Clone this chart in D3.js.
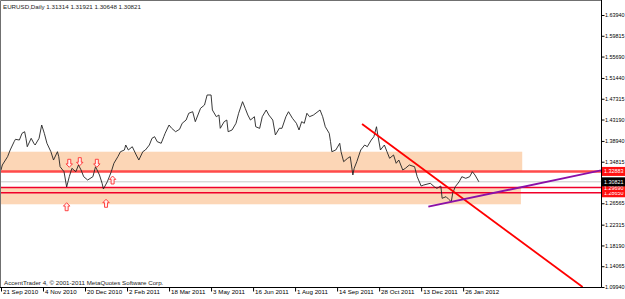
<!DOCTYPE html>
<html><head><meta charset="utf-8">
<script src="https://cdn.jsdelivr.net/npm/d3@7"></script>
<style>
html,body{margin:0;padding:0;background:#fff;}
svg{display:block;}
text{font-family:"Liberation Sans",Arial,sans-serif;font-size:6.2px;fill:#000;}
.ax text{font-size:5.4px;}
</style></head>
<body>
<svg id="c" width="625" height="299"></svg>
<script>
// ---- data (bar index from 21 Sep 2010, daily close) ----
const barIdx = [0,1,5,7,10,11,14,16,18,19,20,23,25,26,29,31,33,35,38,40,43,44,45,48,50,52,54,57,59,61,63,66,70,72,75,77,78,81,84,86,89,91,94,95,97,100,103,105,108,110,113,115,117,119,122,124,125,128,130,133,136,138,141,143,146,148,150,152,155,157,160,161,164,166,167,170,172,173,176,179,181,184,186,188,190,193,194,197,199,202,204,207,209,212,214,217,219,222,225,227,229,231,233,235,238,243,245,247,250,251,252,255,258,259,261,264,266,268,269,271,274,277,279,282,284,286,287,289,292,294,296,299,301,303,306,308,311,315,317,320,322,327,330,332,335,336,339,341,343,344,346,349,351,354,357,359,361,364];
const closes = [1.3317,1.3416,1.3581,1.3714,1.3879,1.3926,1.3912,1.4045,1.4077,1.3946,1.3779,1.3946,1.3847,1.3813,1.3946,1.4210,1.4045,1.3847,1.3680,1.3515,1.3680,1.3581,1.3382,1.3283,1.2979,1.3184,1.3350,1.3283,1.3416,1.3317,1.3184,1.3118,1.3184,1.3382,1.3218,1.3053,1.2940,1.3085,1.3283,1.3450,1.3581,1.3680,1.3714,1.3813,1.3714,1.3779,1.3615,1.3515,1.3680,1.3714,1.3813,1.3946,1.3978,1.3879,1.3847,1.3978,1.4045,1.4210,1.4145,1.4077,1.4125,1.4244,1.4309,1.4443,1.4474,1.4276,1.4409,1.4542,1.4607,1.4806,1.4806,1.4508,1.4375,1.4409,1.4145,1.4276,1.4309,1.4077,1.4111,1.4244,1.4443,1.4673,1.4542,1.4409,1.4309,1.4375,1.4176,1.4143,1.4375,1.4508,1.4409,1.4309,1.4012,1.4145,1.4145,1.4375,1.4474,1.4343,1.4244,1.4111,1.4276,1.4244,1.4443,1.4375,1.4409,1.4508,1.4375,1.4176,1.4045,1.3879,1.3680,1.3714,1.3847,1.3680,1.3482,1.3549,1.3581,1.3218,1.3350,1.3482,1.3714,1.3813,1.3779,1.3912,1.3978,1.4176,1.4012,1.3714,1.3813,1.3680,1.3549,1.3615,1.3450,1.3515,1.3317,1.3350,1.3416,1.3382,1.3184,1.2999,1.3019,1.3053,1.2985,1.2953,1.2999,1.2755,1.2787,1.2735,1.2687,1.2854,1.2985,1.3085,1.3184,1.3152,1.3184,1.3283,1.3218,1.30821];

const priceTicks = [1.63940,1.59815,1.55690,1.51440,1.47315,1.43190,1.38940,1.34815,1.30690,1.26565,1.22315,1.18190,1.14065,1.09940];
const dateTickIdx = [0,32,64,96,128,160,192,224,256,288,320,352];
const dateTickLabels = ["21 Sep 2010","4 Nov 2010","20 Dec 2010","2 Feb 2011","18 Mar 2011","3 May 2011","16 Jun 2011","1 Aug 2011","14 Sep 2011","28 Oct 2011","13 Dec 2011","26 Jan 2012"];

const zoneIdx = [[-2,397],[-2,396]];
const zonePrice = [[1.3680,1.3288],[1.2969,1.2636]];
const levelPrices = [1.32883,1.29690,1.28650];
const levelLabels = ["1.32883","1.29690","1.28650"];
const currentPrice = 1.30821;
const downTrendIdx = [275,443], downTrendPrice = [1.4230,1.0994];
const upTrendIdx = [325.5,457], upTrendPrice = [1.2588,1.3309];
const downArrowIdx = [52,60,73], downArrowPrice = [1.3450,1.3482,1.3450];
const upArrowIdx = [85,50,80], upArrowPrice = [1.3118,1.2588,1.2656];
const title = "EURUSD,Daily  1.31314 1.31921 1.30648 1.30821";
const footer = "AccentTrader 4, \u00a9 2001-2011 MetaQuotes Software Corp.";

// ---- drawing ----
const svg = d3.select("#c");
const x = d3.scaleLinear().domain([0,457]).range([1,601]);
const y = d3.scaleLinear().domain([1.0994,1.6394]).range([287,15]);

svg.append("defs").append("clipPath").attr("id","clip")
  .append("rect").attr("x",0).attr("y",0).attr("width",601).attr("height",287);
const g = svg.append("g").attr("clip-path","url(#clip)");

// zones
g.selectAll("rect.zone").data(zoneIdx).join("rect").attr("class","zone")
  .attr("x",d=>x(d[0])).attr("width",d=>x(d[1])-x(d[0]))
  .attr("y",(d,i)=>y(zonePrice[i][0]))
  .attr("height",(d,i)=>y(zonePrice[i][1])-y(zonePrice[i][0]))
  .attr("fill","#fcd6b6");

// current price line
g.append("line").attr("x1",0).attr("x2",601)
  .attr("y1",y(currentPrice)).attr("y2",y(currentPrice))
  .attr("stroke","#c8c8c8").attr("stroke-width",1);

// levels
g.selectAll("line.level").data(levelPrices).join("line").attr("class","level")
  .attr("x1",0).attr("x2",601).attr("y1",d=>y(d)).attr("y2",d=>y(d))
  .attr("stroke",(d,i)=>i===0?"#ff4a4a":"#f0002a")
  .attr("stroke-width",(d,i)=>i===0?2.6:1.6);

// price line
const pts = barIdx.map((b,i)=>[b,closes[i]]);
g.append("path").datum(pts)
  .attr("d",d3.line().x(d=>x(d[0])).y(d=>y(d[1])))
  .attr("fill","none").attr("stroke","#222").attr("stroke-width",0.9);

// trend lines
g.append("line").attr("x1",x(downTrendIdx[0])).attr("y1",y(downTrendPrice[0]))
  .attr("x2",x(downTrendIdx[1])).attr("y2",y(downTrendPrice[1]))
  .attr("stroke","#ff0000").attr("stroke-width",1.8);
g.append("line").attr("x1",x(upTrendIdx[0])).attr("y1",y(upTrendPrice[0]))
  .attr("x2",x(upTrendIdx[1])).attr("y2",y(upTrendPrice[1]))
  .attr("stroke","#8a10a8").attr("stroke-width",1.8);

// arrows
const upShape = "M0,-4 L3.2,-0.6 L1.5,-0.6 L1.5,4 L-1.5,4 L-1.5,-0.6 L-3.2,-0.6 Z";
function arrows(idx, pr, rot){
  g.selectAll(null).data(idx).join("path")
    .attr("d",upShape)
    .attr("transform",(d,i)=>`translate(${x(d)},${y(pr[i])}) rotate(${rot})`)
    .attr("fill","#fff0f0").attr("stroke","#ff3030").attr("stroke-width",0.9);
}
arrows(downArrowIdx, downArrowPrice, 180);
arrows(upArrowIdx, upArrowPrice, 0);

// frame
svg.append("path").attr("d","M0.5,287.5 V0.5 H601.5 V287.5 Z")
  .attr("fill","none").attr("stroke","#707070").attr("stroke-width",1);
svg.append("line").attr("x1",0).attr("x2",601.5).attr("y1",287.5).attr("y2",287.5).attr("stroke","#000");
svg.append("line").attr("x1",601.5).attr("x2",601.5).attr("y1",0).attr("y2",287.5).attr("stroke","#000");

// right axis
const ya = svg.append("g").attr("class","ax").attr("transform","translate(601.5,0)")
  .call(d3.axisRight(y).tickValues(priceTicks).tickSize(3).tickPadding(0.5).tickFormat(d3.format(".5f")));
ya.select(".domain").remove();
ya.selectAll("text").attr("font-family",null).attr("font-size",null).attr("fill","#000");
ya.selectAll("line").attr("stroke","#000");

// bottom axis
const xa = svg.append("g").attr("transform","translate(0,287.5)")
  .call(d3.axisBottom(x).tickValues(dateTickIdx).tickSize(4).tickFormat((d,i)=>dateTickLabels[i]));
xa.select(".domain").remove();
xa.selectAll("line").attr("stroke","#000");
xa.selectAll("text").attr("font-family",null).attr("font-size",null).attr("fill","#000")
  .attr("text-anchor","start").attr("x",1.5).attr("y",2.5).attr("dy","0.71em");

// price labels
const labelData = levelPrices.map((p,i)=>({p, t:levelLabels[i], c:"#ff1010"}));
labelData.push({p:currentPrice, t:"1.30821", c:"#000"});
const order = [0,2,1,3];
const lg = svg.append("g").attr("class","ax");
order.forEach(k=>{
  const d = labelData[k];
  lg.append("rect").attr("x",602).attr("y",y(d.p)-4.5).attr("width",23).attr("height",9).attr("fill",d.c);
  lg.append("text").attr("x",604).attr("y",y(d.p)+2).text(d.t).style("fill","#fff");
});

// texts
svg.append("text").attr("x",3).attr("y",8.5).text(title).style("fill","#222");
svg.append("text").attr("x",4).attr("y",285).text(footer).style("fill","#222");
</script>
</body></html>
